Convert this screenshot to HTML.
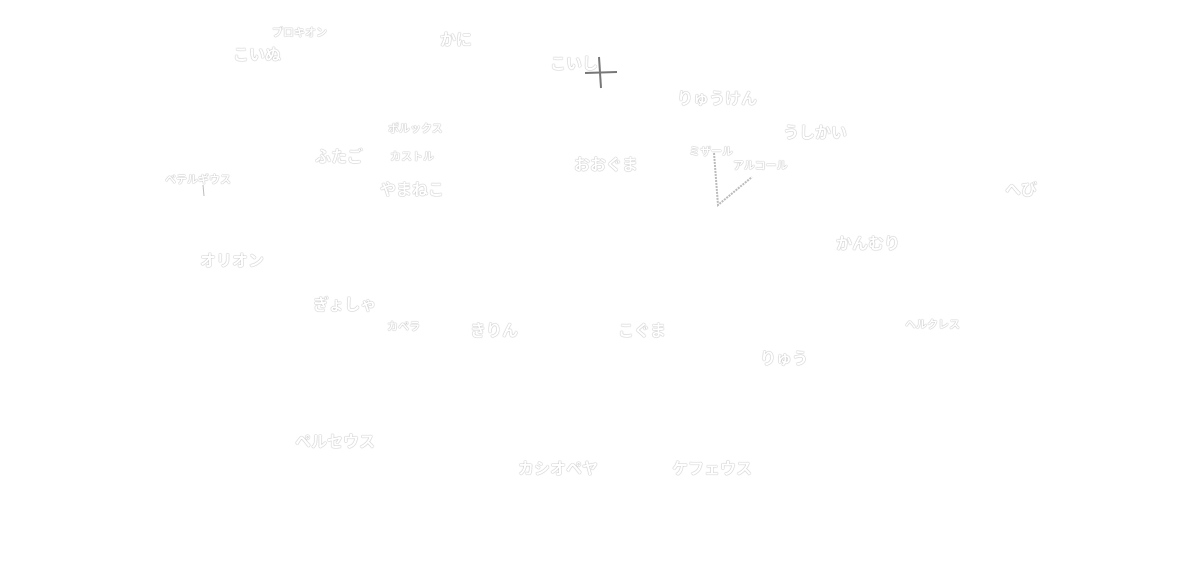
<!DOCTYPE html>
<html><head><meta charset="utf-8"><style>
body{margin:0;width:1200px;height:570px;background:#fff;position:relative;overflow:hidden;font-family:"Liberation Sans","Noto Sans CJK JP",sans-serif;font-weight:bold}
.t{position:absolute;color:#fff;white-space:nowrap;line-height:1;margin-top:3px;
text-shadow:0 0 1px #aaa,0 0 1px #aaa;font-size:16px}
.s{font-size:11px}
</style></head><body>
<div class="t s" style="left:272px;top:25px">プロキオン</div>
<div class="t" style="left:233px;top:45px">こいぬ</div>
<div class="t" style="left:440px;top:30px">かに</div>
<div class="t" style="left:550px;top:54px">こいし</div>
<div class="t" style="left:677px;top:89px">りゅうけん</div>
<div class="t" style="left:783px;top:123px">うしかい</div>
<div class="t s" style="left:689px;top:144px">ミザール</div>
<div class="t s" style="left:733px;top:158px">アルコール</div>
<div class="t" style="left:574px;top:155px">おおぐま</div>
<div class="t" style="left:315px;top:147px">ふたご</div>
<div class="t s" style="left:388px;top:121px">ポルックス</div>
<div class="t s" style="left:390px;top:149px">カストル</div>
<div class="t s" style="left:165px;top:172px">ベテルギウス</div>
<div class="t" style="left:380px;top:180px">やまねこ</div>
<div class="t" style="left:1005px;top:180px">へび</div>
<div class="t" style="left:836px;top:234px">かんむり</div>
<div class="t" style="left:200px;top:251px">オリオン</div>
<div class="t" style="left:313px;top:295px">ぎょしゃ</div>
<div class="t s" style="left:387px;top:319px">カペラ</div>
<div class="t" style="left:470px;top:321px">きりん</div>
<div class="t" style="left:618px;top:321px">こぐま</div>
<div class="t s" style="left:905px;top:317px">ヘルクレス</div>
<div class="t" style="left:760px;top:349px">りゅう</div>
<div class="t" style="left:295px;top:432px">ペルセウス</div>
<div class="t" style="left:518px;top:459px">カシオペヤ</div>
<div class="t" style="left:672px;top:459px">ケフェウス</div>
<svg width="1200" height="570" style="position:absolute;left:0;top:0">
<line x1="585" y1="73" x2="617" y2="72" stroke="#777" stroke-width="2"/>
<line x1="599" y1="57" x2="601" y2="88" stroke="#777" stroke-width="2"/>
<polyline points="714,153 718,205 752,177" fill="none" stroke="#bbb" stroke-width="2" stroke-dasharray="2,1"/>
<line x1="203" y1="185" x2="204" y2="196" stroke="#bbb" stroke-width="1"/>
</svg>
</body></html>
